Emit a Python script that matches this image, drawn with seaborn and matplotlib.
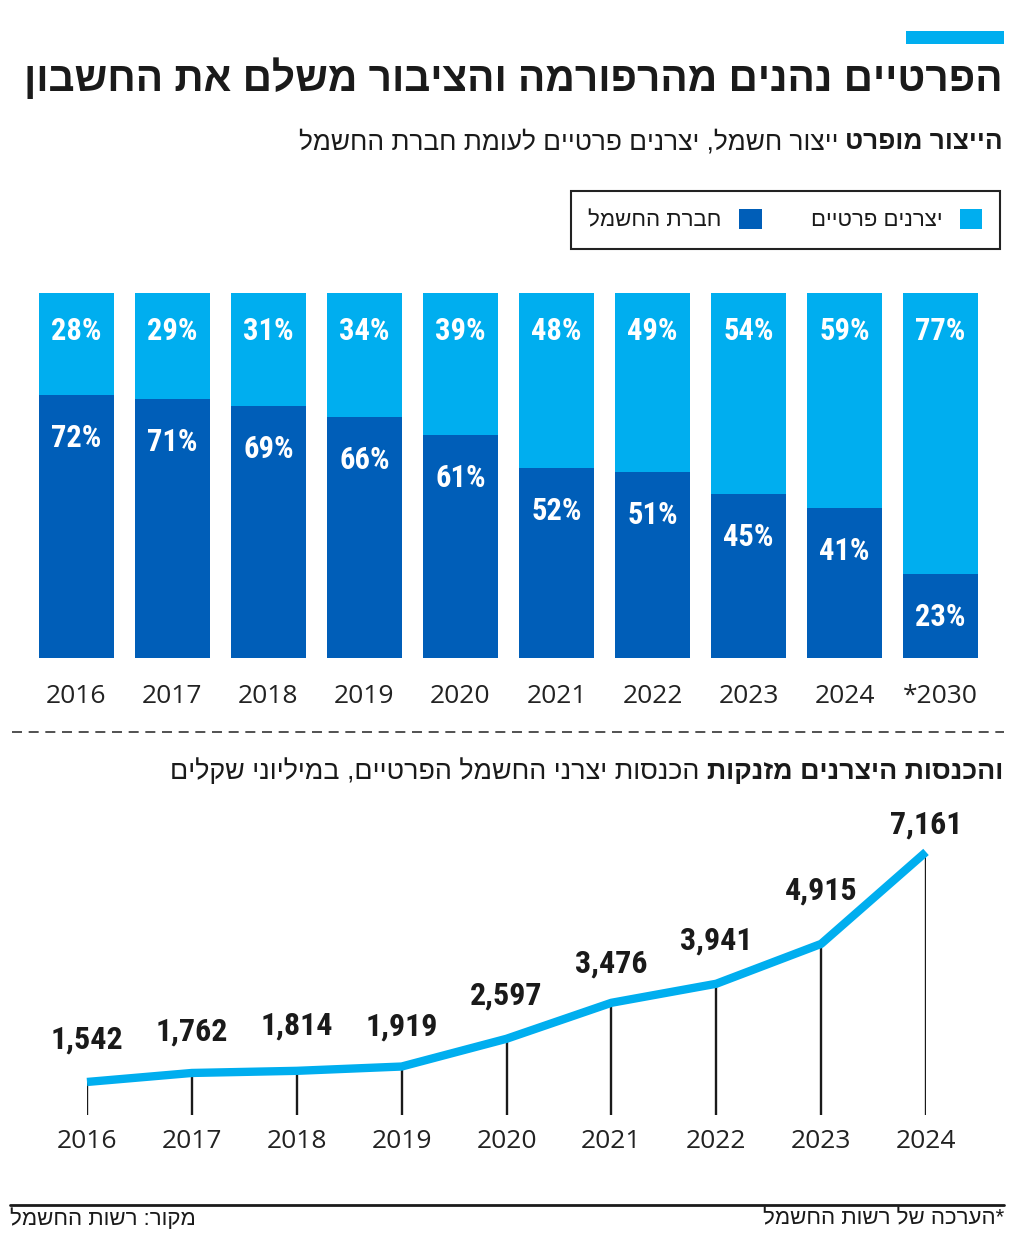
import numpy as np
import pandas as pd
import matplotlib.pyplot as plt
import seaborn as sns
from matplotlib import font_manager as fm
from matplotlib.patches import Patch, Rectangle
from matplotlib.lines import Line2D

# ============================================================================
# DATA
# ============================================================================
years_bar = ['2016', '2017', '2018', '2019', '2020', '2021', '2022', '2023', '2024', '*2030']
private_share = [28, 29, 31, 34, 39, 48, 49, 54, 59, 77]
company_share = [72, 71, 69, 66, 61, 52, 51, 45, 41, 23]

years_line = ['2016', '2017', '2018', '2019', '2020', '2021', '2022', '2023', '2024']
private_income = [1542, 1762, 1814, 1919, 2597, 3476, 3941, 4915, 7161]

# gap (px) between each point on the line and its value label
label_gap_px = [42, 41, 45, 40, 43, 39, 43, 53, 27]

LIGHT = '#00AEEF'
DARK = '#005EB8'
INK = '#1a1a1a'

W, H = 1024, 1243

# ============================================================================
# STYLING
# ============================================================================
sns.set_theme(style='white')
installed = {f.name for f in fm.fontManager.ttflist}


def pick(names):
    found = [n for n in names if n in installed]
    return found if found else ['DejaVu Sans']


HEB_FONT = pick(['Liberation Sans Narrow', 'Liberation Sans', 'DejaVu Sans'])
NUM_BOLD = pick(['Roboto Condensed', 'Liberation Sans Narrow', 'Roboto', 'Liberation Sans'])
NUM_FONT = pick(['Open Sans', 'Noto Sans', 'DejaVu Sans'])
plt.rcParams['font.family'] = HEB_FONT


def heb(s):
    # matplotlib has no bidi support: write Hebrew in visual order
    return s[::-1]


def fx(px):
    return px / W


def fy(py):
    return 1 - py / H


fig = plt.figure(figsize=(W / 100, H / 100), dpi=100)
fig.patch.set_facecolor('white')
renderer = fig.canvas.get_renderer()


def fit(t, max_w):
    w = t.get_window_extent(renderer).width
    if w > max_w:
        t.set_fontsize(t.get_fontsize() * max_w / w)


def mixed_line(y, bold, regular, size, left_limit, right=1003, gap=7):
    t1 = fig.text(fx(right), fy(y), heb(bold), ha='right', va='center',
                  fontsize=size, fontweight='bold', fontstretch='condensed', color=INK)
    bb = t1.get_window_extent(renderer)
    t2 = fig.text((bb.x0 - gap) / W, fy(y), heb(regular), ha='right', va='center',
                  fontsize=size, fontstretch='condensed', color=INK)
    w_total = right - t2.get_window_extent(renderer).x0
    if w_total > right - left_limit:
        k = (right - left_limit) / w_total
        t1.set_fontsize(size * k)
        bb = t1.get_window_extent(renderer)
        t2.set_fontsize(size * k)
        t2.set_x((bb.x0 - gap) / W)


# ============================================================================
# HEADER
# ============================================================================
fig.add_artist(Rectangle((fx(906), fy(44)), fx(1004) - fx(906), 13 / H,
                         transform=fig.transFigure, facecolor=LIGHT, edgecolor='none'))

title = fig.text(fx(1003), fy(78), heb('הפרטיים נהנים מהרפורמה והציבור משלם את החשבון'),
                 ha='right', va='center', fontsize=32, fontweight='bold',
                 fontstretch='condensed', color=INK)
fit(title, 978)

mixed_line(142, 'הייצור מופרט', 'ייצור חשמל, יצרנים פרטיים לעומת חברת החשמל', 22, 300)

# legend
handles = [Patch(facecolor=DARK, edgecolor='none'), Patch(facecolor=LIGHT, edgecolor='none')]
labels = [heb('חברת החשמל'), heb('יצרנים פרטיים')]
leg = fig.legend(handles, labels, ncol=2, markerfirst=False, loc='upper right',
                 bbox_to_anchor=(fx(1000), fy(191)), frameon=True, fancybox=False,
                 edgecolor='#222222', framealpha=1, fontsize=16,
                 handlelength=1.0, handleheight=1.0, columnspacing=2.2,
                 handletextpad=0.8, borderpad=0.8, borderaxespad=0)
leg.get_frame().set_linewidth(1.5)
for txt in leg.get_texts():
    txt.set_color(INK)

# ============================================================================
# STACKED BARS (every column is 100%)
# ============================================================================
axb = fig.add_axes([fx(39), fy(658), fx(978) - fx(39), (658 - 293) / H])
df_bar = pd.DataFrame({'year': years_bar, 'private': private_share, 'company': company_share})
df_bar['full'] = 100

sns.barplot(data=df_bar, x='year', y='full', color=LIGHT, saturation=1,
            width=0.78, linewidth=0, ax=axb)
sns.barplot(data=df_bar, x='year', y='company', color=DARK, saturation=1,
            width=0.78, linewidth=0, ax=axb)

axb.set_xlim(-0.39, len(years_bar) - 1 + 0.39)
axb.set_ylim(0, 100)
axb.set_xlabel('')
axb.set_ylabel('')
axb.set_yticks([])
sns.despine(ax=axb, left=True, bottom=True)
axb.tick_params(axis='x', length=0, pad=19, labelsize=19, labelcolor='#222222')
for lab in axb.get_xticklabels():
    lab.set_family(NUM_FONT)

for i, (p, c) in enumerate(zip(df_bar['private'], df_bar['company'])):
    axb.annotate(f'{p}%', (i, 100), xytext=(0, -38), textcoords='offset pixels',
                 ha='center', va='center', color='white', fontsize=22,
                 fontweight='bold', fontstretch='condensed', family=NUM_BOLD)
    axb.annotate(f'{c}%', (i, c), xytext=(0, -43), textcoords='offset pixels',
                 ha='center', va='center', color='white', fontsize=22,
                 fontweight='bold', fontstretch='condensed', family=NUM_BOLD)

# dashed separator
fig.add_artist(Line2D([fx(12), fx(1004)], [fy(732), fy(732)], transform=fig.transFigure,
                      color='#333333', linewidth=1.2, linestyle=(0, (6, 4))))

# ============================================================================
# LINE CHART
# ============================================================================
mixed_line(772, 'והכנסות היצרנים מזנקות', 'הכנסות יצרני החשמל הפרטיים, במיליוני שקלים', 22, 172)

axl = fig.add_axes([fx(87), fy(1115), fx(926) - fx(87), (1115 - 800) / H])
df_line = pd.DataFrame({'year': years_line, 'income': private_income})
df_line['pos'] = np.arange(len(df_line))

y_low = 735
sns.lineplot(data=df_line, x='pos', y='income', color=LIGHT, linewidth=6,
             solid_capstyle='butt', clip_on=False, zorder=3, ax=axl)
axl.vlines(df_line['pos'], y_low, df_line['income'], color=INK, linewidth=1.7, zorder=2)

axl.set_xlim(0, len(df_line) - 1)
axl.set_ylim(y_low, 8430)
axl.set_xticks(df_line['pos'], df_line['year'])
axl.set_yticks([])
axl.set_xlabel('')
axl.set_ylabel('')
sns.despine(ax=axl, left=True, bottom=True)
axl.tick_params(axis='x', length=0, pad=10, labelsize=19, labelcolor='#222222')
for lab in axl.get_xticklabels():
    lab.set_family(NUM_FONT)

for x, v, g in zip(df_line['pos'], df_line['income'], label_gap_px):
    axl.annotate(f'{v:,}', (x, v), xytext=(0, g), textcoords='offset pixels',
                 ha='center', va='center', color=INK, fontsize=23,
                 fontweight='bold', fontstretch='condensed', family=NUM_BOLD,
                 annotation_clip=False)

# ============================================================================
# FOOTER
# ============================================================================
fig.add_artist(Line2D([fx(10), fx(1004)], [fy(1205), fy(1205)], transform=fig.transFigure,
                      color=INK, linewidth=2))
fig.text(fx(10), fy(1219), heb('מקור: רשות החשמל'), ha='left', va='center',
         fontsize=16, fontstretch='condensed', color=INK)
fig.text(fx(1004), fy(1219), heb('*הערכה של רשות החשמל'), ha='right', va='center',
         fontsize=16, fontstretch='condensed', color=INK)

fig.savefig('out.png', dpi=100, facecolor='white')
